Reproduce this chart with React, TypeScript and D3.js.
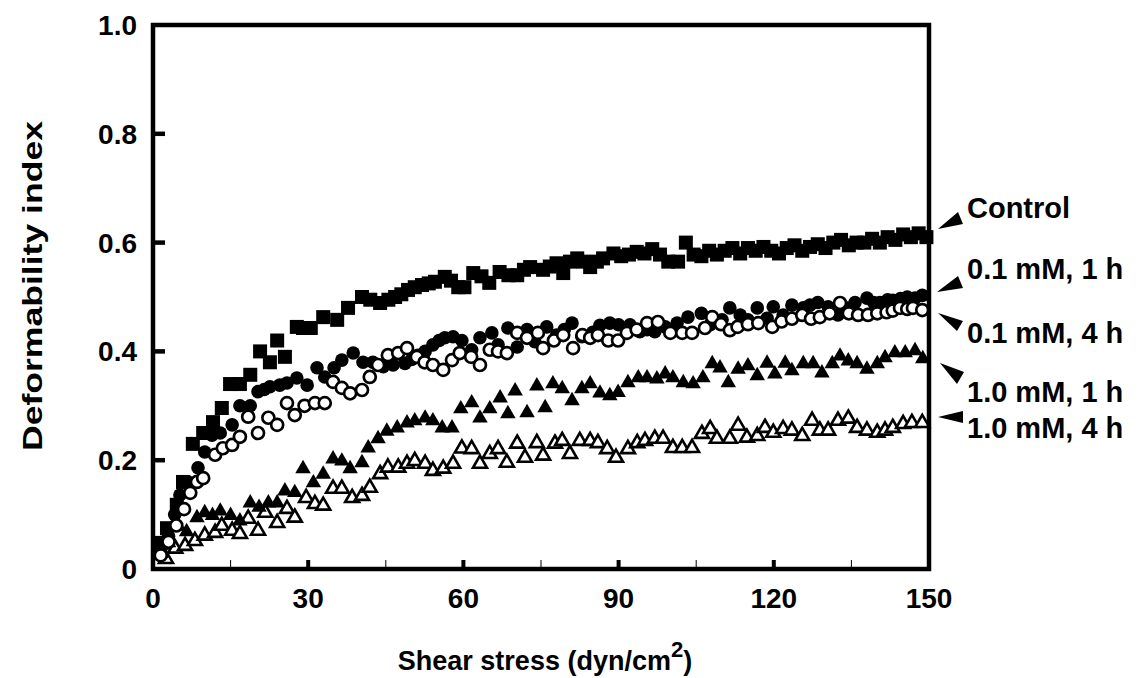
import React from "react";
import * as d3 from "d3";

// shear stress (dyn/cm2), deformability index
const control = [
  [1.7, 0.048], [2.7, 0.075], [4.6, 0.118], [5.8, 0.16], [7.7, 0.23], [9.7, 0.25], [11.6, 0.27], [13.3, 0.296],
  [14.9, 0.34], [16.8, 0.34], [18.8, 0.357], [20.7, 0.4], [22.6, 0.38], [24, 0.42], [25.5, 0.39], [27.8, 0.445],
  [29, 0.443], [30.5, 0.443], [32.9, 0.463], [35.6, 0.458], [37.7, 0.48], [40.4, 0.5], [42, 0.495], [43.9, 0.489],
  [45.5, 0.495], [46.8, 0.5], [48, 0.505], [49.3, 0.513], [50.6, 0.518], [52, 0.522], [53.3, 0.525], [54.5, 0.528],
  [56.4, 0.537], [57.6, 0.53], [59, 0.518], [60.2, 0.518], [61.9, 0.544], [63.5, 0.538], [65, 0.526], [67, 0.546],
  [68.7, 0.54], [70.4, 0.54], [71.7, 0.55], [72.9, 0.555], [75.4, 0.55], [76.7, 0.556], [78, 0.562], [79.3, 0.544],
  [80.6, 0.565], [82, 0.571], [83.2, 0.565], [84.5, 0.555], [85.8, 0.565], [87, 0.571], [89, 0.58], [90.5, 0.575],
  [92, 0.578], [93.5, 0.583], [95, 0.58], [96.5, 0.588], [98, 0.578], [99.6, 0.565], [101.5, 0.565], [103, 0.6],
  [104.5, 0.578], [106, 0.575], [107.5, 0.585], [109, 0.578], [110.5, 0.585], [112, 0.59], [113.5, 0.58], [115, 0.59],
  [116.5, 0.585], [118, 0.592], [119.5, 0.585], [121, 0.58], [122.5, 0.59], [124, 0.595], [125.5, 0.585], [127, 0.592],
  [128.5, 0.597], [130, 0.59], [131.5, 0.6], [133, 0.605], [134.5, 0.595], [136, 0.6], [137.5, 0.6], [139, 0.607],
  [140.5, 0.6], [142, 0.61], [143.5, 0.605], [145, 0.615], [146.5, 0.61], [148, 0.617], [149.5, 0.61],
];

const mM01h1 = [
  [1.5, 0.03], [3, 0.06], [4.2, 0.1], [5.2, 0.136], [6.8, 0.16], [8.7, 0.186], [10, 0.215], [11.4, 0.246],
  [13, 0.25], [15.3, 0.265], [16.8, 0.3], [18.8, 0.3], [20.3, 0.326], [21.5, 0.33], [22.6, 0.335], [24.5, 0.338],
  [25.9, 0.342], [27.8, 0.351], [29.8, 0.338], [31.7, 0.37], [33.2, 0.353], [35, 0.37], [36.5, 0.384], [38.7, 0.397],
  [40.6, 0.38], [42.5, 0.38], [44.5, 0.372], [46.4, 0.375], [48.7, 0.378], [50, 0.385], [51.2, 0.393], [52.6, 0.4],
  [54.1, 0.412], [55.3, 0.42], [56.4, 0.425], [58, 0.427], [59.7, 0.42], [61.6, 0.403], [63.2, 0.425], [65.5, 0.434],
  [66.7, 0.412], [68.6, 0.443], [70.4, 0.408], [72.3, 0.44], [73.8, 0.418], [76.1, 0.445], [78, 0.43], [79.5, 0.44],
  [81, 0.452], [82.9, 0.427], [85, 0.435], [86.4, 0.448], [88.3, 0.452], [90, 0.449], [92.2, 0.449], [94.1, 0.436],
  [95.5, 0.44], [97, 0.436], [99, 0.445], [101.3, 0.452], [103.4, 0.463], [106, 0.47], [107.7, 0.449], [110, 0.458],
  [111.5, 0.48], [113.5, 0.467], [115, 0.458], [116.8, 0.48], [118.7, 0.461], [119.9, 0.482], [121.8, 0.467],
  [123.5, 0.485], [125.7, 0.48], [127, 0.485], [128.5, 0.49], [130.5, 0.482], [132.4, 0.467], [134, 0.48],
  [135.7, 0.49], [138, 0.498], [139.3, 0.49], [140.5, 0.49], [142, 0.495], [143, 0.494], [144.5, 0.497],
  [145.8, 0.5], [147.3, 0.498], [148.7, 0.503],
];

const mM01h4 = [
  [1.5, 0.025], [3, 0.05], [4.5, 0.08], [6, 0.11], [7.2, 0.14], [8.5, 0.16], [9.7, 0.167], [12, 0.21],
  [13.5, 0.222], [15.3, 0.228], [16.8, 0.243], [18.4, 0.28], [20.3, 0.25], [22.3, 0.278], [24, 0.265], [25.9, 0.305],
  [27.4, 0.283], [29.3, 0.3], [31.3, 0.305], [33.2, 0.305], [34.8, 0.344], [36.5, 0.333], [38.1, 0.323], [40.4, 0.329],
  [41.9, 0.353], [43.5, 0.375], [45.4, 0.393], [47.4, 0.397], [49.1, 0.406], [51, 0.39], [52.5, 0.38], [54.1, 0.375],
  [56.1, 0.366], [57.8, 0.384], [59.3, 0.397], [61.5, 0.39], [63.2, 0.375], [65.1, 0.403], [66.7, 0.4], [68.4, 0.397],
  [70.4, 0.434], [72.3, 0.425], [74.4, 0.434], [75.4, 0.406], [77.5, 0.42], [79.3, 0.43], [81.2, 0.406], [83, 0.43],
  [84.5, 0.425], [86, 0.43], [88, 0.42], [89.9, 0.42], [91.6, 0.434], [93.5, 0.44], [95.5, 0.452], [97.6, 0.454],
  [100, 0.434], [102.3, 0.434], [104.2, 0.434], [106.7, 0.443], [108.1, 0.463], [109.8, 0.45], [111.5, 0.439],
  [113, 0.445], [115, 0.45], [117, 0.452], [119.7, 0.445], [121.5, 0.455], [123.5, 0.46], [125.5, 0.467],
  [127.2, 0.46], [128.9, 0.463], [130.8, 0.47], [132.8, 0.489], [134.5, 0.47], [136.3, 0.467], [138.2, 0.467],
  [140, 0.47], [141.8, 0.472], [143, 0.475], [144.4, 0.48], [145.8, 0.478], [146.9, 0.48], [148.7, 0.476],
];

const mM1h1 = [
  [1.5, 0.03], [3, 0.05], [4.9, 0.08], [6.5, 0.07], [8.5, 0.096], [10, 0.105], [11.5, 0.1], [13, 0.108],
  [15, 0.1], [16.8, 0.09], [18.8, 0.123], [20.5, 0.115], [22.3, 0.123], [24, 0.123], [25.5, 0.145], [27.4, 0.142],
  [29, 0.186], [31, 0.16], [32.9, 0.176], [34.8, 0.204], [36.5, 0.2], [38.1, 0.186], [40.4, 0.197], [41.6, 0.224],
  [43.5, 0.241], [45.2, 0.255], [47.2, 0.261], [49.1, 0.27], [50.6, 0.274], [52.6, 0.279], [54.1, 0.274],
  [55.9, 0.261], [57.8, 0.261], [59.5, 0.296], [61.6, 0.307], [63.2, 0.279], [65.1, 0.296], [67.1, 0.316],
  [68.6, 0.287], [70, 0.329], [72.3, 0.289], [74.2, 0.338], [75.8, 0.298], [77.3, 0.342], [79.1, 0.333], [81, 0.311],
  [82.9, 0.333], [84.5, 0.342], [86.4, 0.325], [88.3, 0.32], [89.9, 0.326], [91.8, 0.344], [93.8, 0.353],
  [95.5, 0.353], [97.4, 0.351], [99, 0.36], [100.5, 0.353], [102.5, 0.344], [104.4, 0.342], [106.3, 0.353],
  [108.1, 0.379], [109.6, 0.371], [111.2, 0.344], [113.1, 0.369], [115, 0.375], [116.8, 0.357], [118.7, 0.38],
  [120.2, 0.36], [122.2, 0.38], [123.5, 0.366], [125.7, 0.379], [127.6, 0.379], [129.3, 0.362], [131.3, 0.379],
  [132.8, 0.393], [134.4, 0.384], [136.1, 0.379], [138, 0.369], [140, 0.379], [141.5, 0.39], [143.4, 0.399],
  [145.4, 0.399], [147.3, 0.403], [148.8, 0.388],
];

const mM1h4 = [
  [2.5, 0.02], [4.3, 0.039], [6.2, 0.044], [8.1, 0.053], [10, 0.063], [12, 0.068], [13.3, 0.081], [15.3, 0.072],
  [16.8, 0.066], [18.4, 0.094], [20.3, 0.072], [21.7, 0.105], [24, 0.086], [25.9, 0.112], [27.4, 0.096],
  [29.6, 0.132], [31.3, 0.121], [32.9, 0.118], [34.8, 0.149], [36.5, 0.149], [38.5, 0.132], [40.4, 0.136],
  [41.9, 0.151], [43.9, 0.176], [45.4, 0.188], [47.4, 0.188], [49.1, 0.195], [50.6, 0.2], [52.6, 0.195],
  [54.1, 0.182], [56.1, 0.186], [58, 0.195], [59.7, 0.223], [61.6, 0.222], [63.2, 0.195], [65.1, 0.213],
  [66.7, 0.222], [68.4, 0.197], [70.4, 0.232], [71.9, 0.206], [74.2, 0.233], [75.4, 0.21], [77.7, 0.232],
  [79.1, 0.237], [80.6, 0.213], [82.5, 0.237], [84.5, 0.237], [86, 0.233], [87.8, 0.222], [89.5, 0.206],
  [91.8, 0.222], [93.6, 0.233], [95.1, 0.237], [97, 0.241], [98.6, 0.241], [100.5, 0.224], [102.3, 0.224],
  [104.2, 0.224], [106.1, 0.25], [107.7, 0.259], [109, 0.241], [111.5, 0.241], [113.1, 0.265], [114.8, 0.243],
  [116.8, 0.246], [118.3, 0.261], [119.9, 0.252], [121.8, 0.259], [123.5, 0.256], [125.5, 0.246], [127.4, 0.274],
  [128.9, 0.256], [130.5, 0.256], [132.4, 0.274], [134.4, 0.278], [136.1, 0.261], [138, 0.256], [140, 0.252],
  [141.5, 0.256], [143, 0.261], [145, 0.268], [146.7, 0.27], [148.7, 0.27],
];

const xTicks = [0, 30, 60, 90, 120, 150];
const xMinor = [15, 45, 75, 105, 135];
const yTicks = [0, 0.2, 0.4, 0.6, 0.8, 1.0];
const yTickLabels = ["0", "0.2", "0.4", "0.6", "0.8", "1.0"];
const seriesNames = ["Control", "0.1 mM, 1 h", "0.1 mM, 4 h", "1.0 mM, 1 h", "1.0 mM, 4 h"];

const FONT = "'Liberation Sans', Arial, Helvetica, sans-serif";

// label placement and pointer triangles (tip + two base corners), in px
const legendLayout = [
  { y: 218, tri: [[938, 229], [958, 212], [963, 224]] },
  { y: 279, tri: [[937, 292], [958, 276], [963, 288]] },
  { y: 343, tri: [[938, 313], [963, 321], [957, 331]] },
  { y: 402, tri: [[940, 363], [964, 372], [957, 384]] },
  { y: 438, tri: [[938, 417], [963, 411], [963, 423]] },
];

export default function App() {
  const x = d3.scaleLinear().domain([0, 150]).range([153, 929]);
  const y = d3.scaleLinear().domain([0, 1]).range([569, 25]);

  const sq = 14;
  const tri = (cx: number, cy: number, s: number) => {
    const h = s * 0.866;
    return `M${cx},${cy - h * 0.6}L${cx + s / 2},${cy + h * 0.4}L${cx - s / 2},${cy + h * 0.4}Z`;
  };

  return (
    <svg width={1143} height={678} style={{ display: "block", position: "absolute", left: 0, top: 0 }}>
      <rect width={1143} height={678} fill="#fff" />

      {/* 1.0 mM, 4 h open triangles */}
      <g>
        {mM1h4.map((d, i) => (
          <path key={i} d={tri(x(d[0]), y(d[1]), 14)} fill="#fff" stroke="#000" strokeWidth={2.6} />
        ))}
      </g>
      {/* 1.0 mM, 1 h filled triangles */}
      <g>
        {mM1h1.map((d, i) => (
          <path key={i} d={tri(x(d[0]), y(d[1]), 15.5)} fill="#000" />
        ))}
      </g>
      {/* control squares */}
      <g>
        {control.map((d, i) => (
          <rect key={i} x={x(d[0]) - sq / 2} y={y(d[1]) - sq / 2} width={sq} height={sq} fill="#000" />
        ))}
      </g>
      {/* 0.1 mM, 1 h filled circles */}
      <g>
        {mM01h1.map((d, i) => (
          <circle key={i} cx={x(d[0])} cy={y(d[1])} r={6.8} fill="#000" />
        ))}
      </g>
      {/* 0.1 mM, 4 h open circles */}
      <g>
        {mM01h4.map((d, i) => (
          <circle key={i} cx={x(d[0])} cy={y(d[1])} r={6} fill="#fff" stroke="#000" strokeWidth={2.7} />
        ))}
      </g>

      {/* frame */}
      <rect x={x(0)} y={y(1)} width={x(150) - x(0)} height={y(0) - y(1)} fill="none" stroke="#000" strokeWidth={4.5} />

      {/* x ticks */}
      {xTicks.slice(1, -1).map((t) => (
        <line key={t} x1={x(t)} x2={x(t)} y1={y(0)} y2={y(0) - 9} stroke="#000" strokeWidth={4} />
      ))}
      {xMinor.map((t) => (
        <line key={t} x1={x(t)} x2={x(t)} y1={y(0)} y2={y(0) - 9} stroke="#000" strokeWidth={1} />
      ))}
      {xTicks.map((t) => (
        <text key={t} x={x(t)} y={608} textAnchor="middle" fontFamily={FONT} fontWeight="bold" fontSize={28}>
          {t}
        </text>
      ))}

      {/* y ticks */}
      {yTicks.slice(1, -1).map((t) => (
        <line key={t} x1={x(0)} x2={x(0) + 12} y1={y(t)} y2={y(t)} stroke="#000" strokeWidth={4.5} />
      ))}
      {yTicks.map((t, i) => (
        <text key={t} x={137} y={y(t) + 10} textAnchor="end" fontFamily={FONT} fontWeight="bold" fontSize={28}>
          {yTickLabels[i]}
        </text>
      ))}

      {/* axis titles */}
      <text x={545} y={670} textAnchor="middle" fontFamily={FONT} fontWeight="bold" fontSize={27}>
        Shear stress (dyn/cm<tspan dy={-13} fontSize={22}>2</tspan><tspan dy={13}>)</tspan>
      </text>
      <text
        transform={`translate(42,${286}) rotate(-90)`}
        textAnchor="middle"
        fontFamily={FONT}
        fontWeight="bold"
        fontSize={28}
        textLength={330}
        lengthAdjust="spacingAndGlyphs"
      >
        Deformability index
      </text>

      {/* series labels with pointers */}
      {seriesNames.map((name, i) => (
        <g key={name}>
          <path d={"M" + legendLayout[i].tri.map((p) => p.join(",")).join("L") + "Z"} fill="#000" />
          <text x={967} y={legendLayout[i].y} fontFamily={FONT} fontWeight="bold" fontSize={29}>
            {name}
          </text>
        </g>
      ))}
    </svg>
  );
}
